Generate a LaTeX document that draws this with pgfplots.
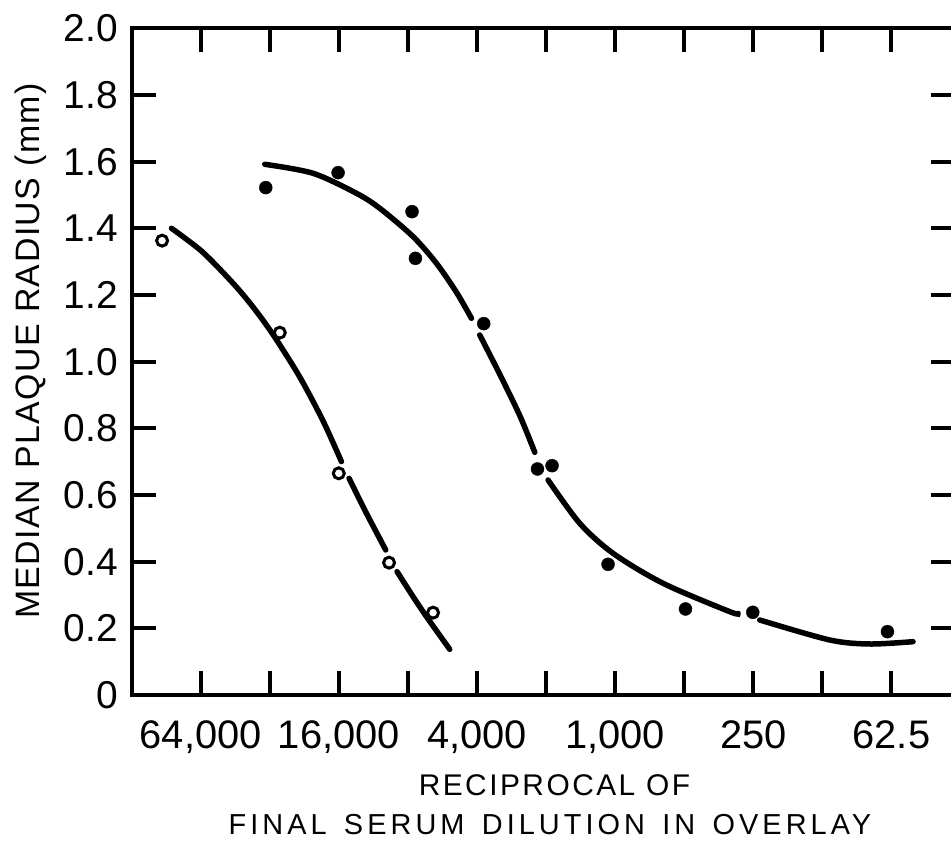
\documentclass[border=0pt]{standalone}
\usepackage{fontspec}
\setmainfont{Liberation Sans}
\newfontfamily\ylabfont[LetterSpace=4.4]{Liberation Sans}
\newfontfamily\xlabfonta[LetterSpace=8.3]{Liberation Sans}
\newfontfamily\xlabfontb[LetterSpace=14]{Liberation Sans}
\usepackage{pgfplots}
\pgfplotsset{compat=1.18}
\newcommand{\ws}{\hspace{0.6em}}
\begin{document}
\begin{tikzpicture}
\useasboundingbox (0,0) rectangle (951bp,841bp);
\begin{axis}[
  at={(131.7bp,146bp)}, anchor=south west,
  scale only axis, width=823.3bp, height=666.7bp,
  xmin=-1, xmax=10.92, ymin=0, ymax=2,
  clip=false,
  axis line style={line width=4bp, black},
  every tick/.style={line width=4bp, black},
  major tick length=24bp,
  tick align=inside,
  xtick pos=both, ytick pos=both,
  xticklabel pos=bottom, yticklabel pos=left,
  xtick={0,1,2,3,4,5,6,7,8,9,10},
  xticklabels={{64,000},{},{16,000},{},{4,000},{},{1,000},{},{250},{},{62.5}},
  ytick={0,0.2,0.4,0.6,0.8,1.0,1.2,1.4,1.6,1.8,2.0},
  yticklabels={0,0.2,0.4,0.6,0.8,1.0,1.2,1.4,1.6,1.8,2.0},
  xticklabel style={font=\fontsize{40}{40}\selectfont, anchor=north, inner sep=0pt, yshift=-25bp},
  yticklabel style={font=\fontsize{39}{39}\selectfont, anchor=east, inner sep=0pt, xshift=-13.7bp},
  xlabel={RECIPROCAL OF},
  xlabel style={at={(rel axis cs:0.5135,-0.15)}, anchor=base, inner sep=0pt, font={\xlabfonta\fontsize{30}{30}\selectfont}},
  ylabel={MEDIAN PLAQUE RADIUS (mm)},
  ylabel style={at={(rel axis cs:-0.1126,0.516)}, anchor=base, inner sep=0pt, font={\ylabfont\fontsize{34}{34}\selectfont}},
]
% curve through open circles (drawn in segments, with gaps as in the original)
\addplot[smooth, line width=5.5bp, line cap=round, no markers] coordinates {
 (-0.424,1.400) (0.020,1.330) (0.468,1.235) (0.760,1.163) (1.047,1.081) (1.433,0.954) (1.771,0.822) (2.037,0.700)};
\addplot[smooth, line width=5.5bp, line cap=round, no markers] coordinates {
 (2.147,0.650) (2.399,0.545) (2.678,0.435)};
\addplot[smooth, line width=5.5bp, line cap=round, no markers] coordinates {
 (2.842,0.370) (3.074,0.295) (3.268,0.235) (3.605,0.137)};
% curve through filled circles
\addplot[smooth, line width=5.5bp, line cap=round, no markers] coordinates {
 (0.927,1.592) (1.626,1.565) (2.254,1.505) (2.592,1.460) (3.074,1.375) (3.412,1.295) (3.702,1.208) (3.919,1.130)};
\addplot[smooth, line width=5.5bp, line cap=round, no markers] coordinates {
 (4.039,1.080) (4.329,0.962) (4.619,0.838) (4.836,0.728)};
\addplot[smooth, line width=5.5bp, line cap=round, no markers] coordinates {
 (5.028,0.645) (5.487,0.515) (5.969,0.425) (6.693,0.335) (7.659,0.250) (7.780,0.245)};
\addplot[smooth, line width=5.5bp, line cap=round, no markers] coordinates {
 (8.093,0.225) (9.107,0.165) (9.686,0.153) (10.313,0.160)};
% open circles
\addplot[only marks, mark=*, mark size=5.5bp, mark options={fill=white, draw=black, line width=3bp}] coordinates {
 (-0.560,1.363) (1.144,1.087) (1.998,0.665) (2.726,0.397) (3.363,0.247)};
% filled circles
\addplot[only marks, mark=*, mark size=6.5bp, mark options={fill=black, draw=black}] coordinates {
 (0.941,1.522) (1.988,1.567) (3.059,1.450) (3.108,1.310) (4.097,1.114)
 (4.875,0.678) (5.086,0.688) (5.897,0.392) (7.018,0.258) (7.992,0.248) (9.942,0.190)};
\node[anchor=base, inner sep=0pt, font={\xlabfontb\fontsize{29}{29}\selectfont}] at (rel axis cs:0.508,-0.2085)
 {FINAL\ws SERUM\ws DILUTION\ws IN\ws OVERLAY};
\end{axis}
\end{tikzpicture}
\end{document}
